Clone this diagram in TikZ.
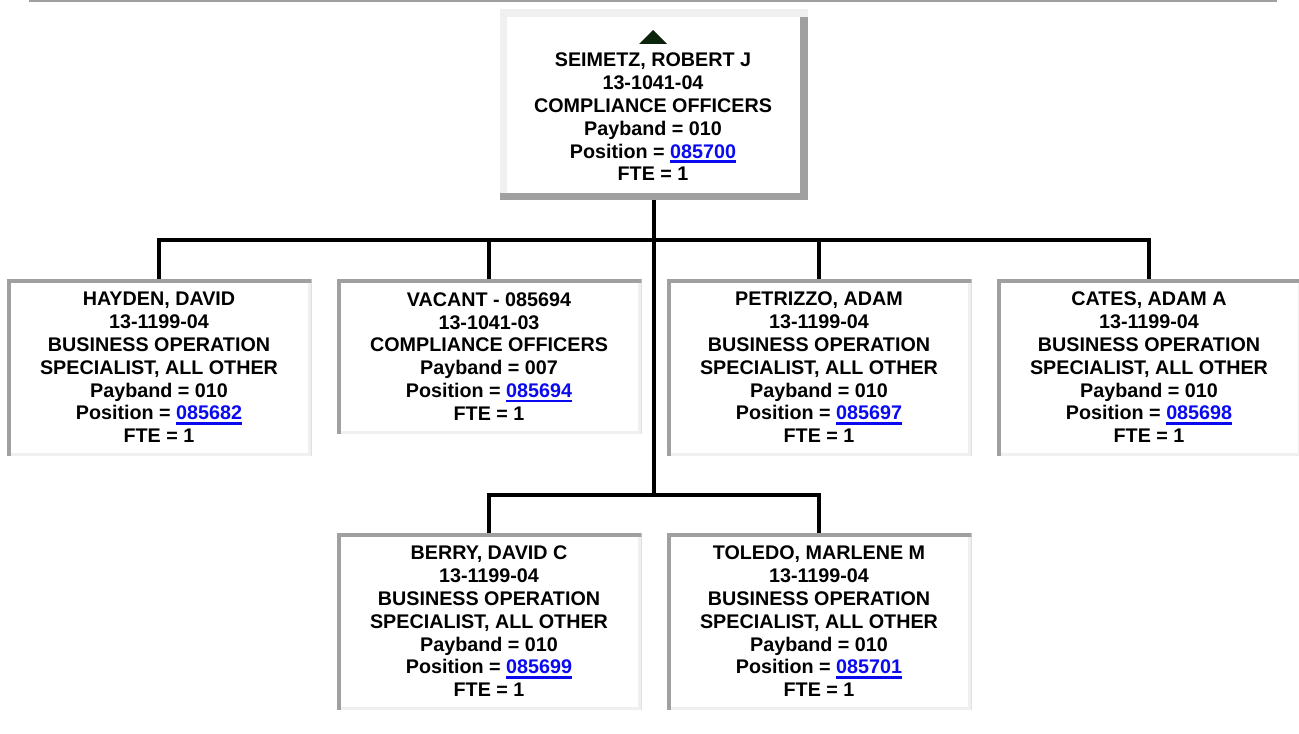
\documentclass[tikz,border=0pt]{standalone}
\usepackage{fontspec}
\setmainfont{Liberation Sans}
\definecolor{bdark}{RGB}{160,160,160}
\definecolor{blight}{RGB}{240,240,240}
\definecolor{linkblue}{RGB}{10,10,240}
\definecolor{tricol}{RGB}{12,36,12}
\newcommand{\mylink}[1]{\textcolor{linkblue}{\setbox0\hbox{#1}\rlap{\rule[-3.5pt]{\wd0}{1.8pt}}\box0}}
\tikzset{
  txt/.style={align=center,inner sep=0pt,font=\fontsize{14.8pt}{17.1pt}\selectfont\bfseries},
  childbox/.style={txt,rectangle,minimum width=228.75pt,minimum height=#1,
    path picture={
      \fill[bdark] (path picture bounding box.north west) rectangle (path picture bounding box.south east);
      \fill[blight] ([shift={(4,4)}]path picture bounding box.north west) rectangle (path picture bounding box.south east);
      \fill[white] ([shift={(4,4)}]path picture bounding box.north west) rectangle ([shift={(-4,-3)}]path picture bounding box.south east);
    }},
  topstyle/.style={rectangle,inner sep=0pt,minimum width=231pt,minimum height=143.25pt,
    path picture={
      \fill[blight] (path picture bounding box.north west) rectangle (path picture bounding box.south east);
      \fill[bdark] ([shift={(-8,8)}]path picture bounding box.north east) rectangle (path picture bounding box.south east);
      \fill[bdark] ([shift={(0,-7)}]path picture bounding box.south west) rectangle (path picture bounding box.south east);
      \fill[white] ([shift={(7,8)}]path picture bounding box.north west) rectangle ([shift={(-8,-7)}]path picture bounding box.south east);
    }},
  conn/.style={line width=3pt,black,line join=miter}
}
\begin{document}
\begin{tikzpicture}[x=0.75pt,y=-0.75pt]
\useasboundingbox (0,0) rectangle (1299,734);
\fill[bdark] (29,0) rectangle (1277,2);

\node[topstyle] (topbox) at (654,104.5) {};
\fill[tricol] (639,44) -- (667,44) -- (653,30) -- cycle;
\node[txt] (top) at (653,117) {SEIMETZ, ROBERT J\\13-1041-04\\COMPLIANCE OFFICERS\\Payband = 010\\Position = \mylink{085700}\\FTE = 1};

\node[childbox=132.75pt] (hayden) at (159,367.5) {HAYDEN, DAVID\\13-1199-04\\BUSINESS OPERATION\\SPECIALIST, ALL OTHER\\Payband = 010\\Position = \mylink{085682}\\FTE = 1};
\node[childbox=116.25pt] (vacant) at (489,356.5) {VACANT - 085694\\13-1041-03\\COMPLIANCE OFFICERS\\Payband = 007\\Position = \mylink{085694}\\FTE = 1};
\node[childbox=132.75pt] (petrizzo) at (819,367.5) {PETRIZZO, ADAM\\13-1199-04\\BUSINESS OPERATION\\SPECIALIST, ALL OTHER\\Payband = 010\\Position = \mylink{085697}\\FTE = 1};
\node[childbox=132.75pt] (cates) at (1149,367.5) {CATES, ADAM A\\13-1199-04\\BUSINESS OPERATION\\SPECIALIST, ALL OTHER\\Payband = 010\\Position = \mylink{085698}\\FTE = 1};
\node[childbox=132.75pt] (berry) at (489,621.5) {BERRY, DAVID C\\13-1199-04\\BUSINESS OPERATION\\SPECIALIST, ALL OTHER\\Payband = 010\\Position = \mylink{085699}\\FTE = 1};
\node[childbox=132.75pt] (toledo) at (819,621.5) {TOLEDO, MARLENE M\\13-1199-04\\BUSINESS OPERATION\\SPECIALIST, ALL OTHER\\Payband = 010\\Position = \mylink{085701}\\FTE = 1};

\coordinate (j1) at (654,240);
\coordinate (j2) at (654,495);
\draw[conn] (topbox.south) -- (j2);
\draw[conn] (hayden.north) |- (j1) -| (cates.north);
\draw[conn] (vacant.north) -- (vacant.north |- j1);
\draw[conn] (petrizzo.north) -- (petrizzo.north |- j1);
\draw[conn] (berry.north) |- (j2) -| (toledo.north);
\end{tikzpicture}
\end{document}
